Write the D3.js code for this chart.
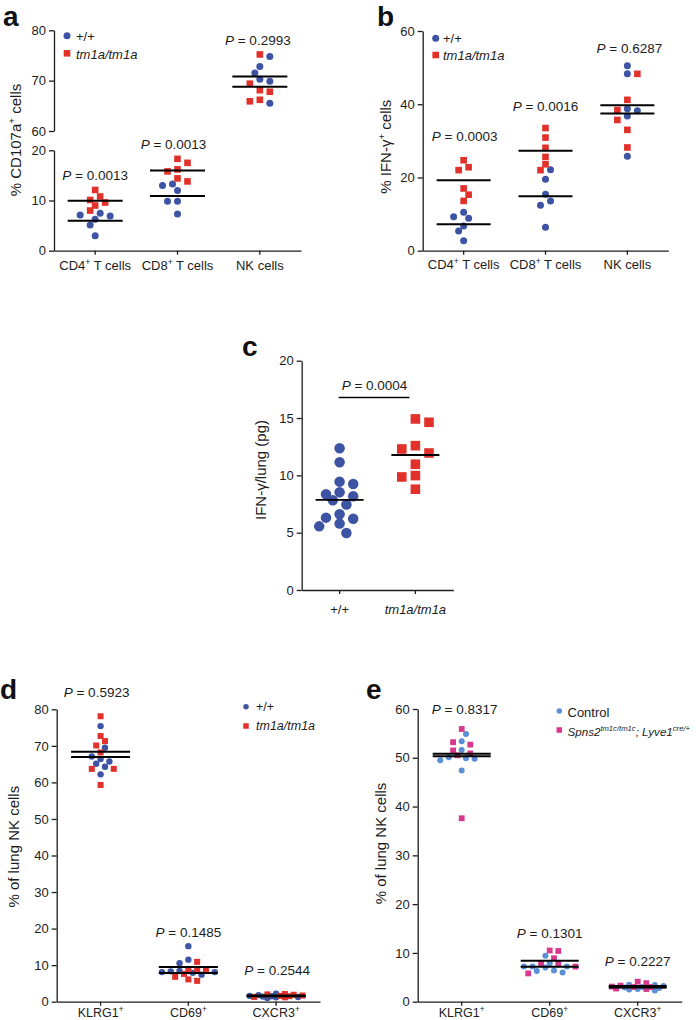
<!DOCTYPE html>
<html><head><meta charset="utf-8">
<script src="https://cdn.jsdelivr.net/npm/d3@7"></script>
<style>
body{margin:0;background:#fff;}
svg{display:block;}
</style></head><body>
<svg id="chart" width="696" height="1020"></svg>
<script>
// ---------------- DATA ----------------
const catsAB = ["CD4^{+} T cells", "CD8^{+} T cells", "NK cells"];
const legendAB = ["+/+", "*tm1a/tm1a*"];

// Panel a: % CD107a+ cells
const aWT = [[7.45, 6.9, 6.25, 7.1, 5.1, 3.0], [13.0, 12.0, 13.3, 9.85, 9.85, 7.3], [71.5, 72.8, 74.8, 70.3, 69.9, 65.5]];
const aKO = [[10.1, 9.0, 12.1, 9.6, 10.8, 8.0], [17.5, 15.8, 16.2, 18.3, 13.8, 14.4], [75.2, 69.4, 68.1, 67.8, 66.2, 65.9]];
const aP = ["0.0013", "0.0013", "0.2993"];
const aTicksLow = [0, 10, 20];
const aTicksHigh = [60, 70, 80];
const aTitle = "% CD107a^{+} cells";

// Panel b: % IFN-g+ cells
const bWT = [[10.5, 8.85, 6.75, 5.4, 9.3, 2.7], [22.1, 19.5, 15.4, 13.6, 12.4, 6.4], [50.5, 48.3, 38.8, 38.2, 36.8, 25.8]];
const bKO = [[24.7, 22.0, 22.8, 17.0, 15.3, 13.6], [33.5, 30.9, 28.1, 25.6, 23.6, 22.0], [48.3, 41.2, 38.4, 35.7, 33.0, 28.2]];
const bP = ["0.0003", "0.0016", "0.6287"];
const bTicks = [0, 20, 40, 60];
const bTitle = "% IFN-γ^{+}  cells";

// Panel c: IFN-g/lung (pg)
const catsC = ["+/+", "*tm1a/tm1a*"];
const cWT = [12.36, 11.14, 9.45, 9.25, 8.35, 8.52, 7.83, 8.18, 7.45, 6.6, 6.31, 6.22, 5.79, 5.55, 4.97];
const cKO = [14.92, 14.63, 12.59, 11.95, 12.3, 10.97, 9.98, 9.86, 8.79];
const cP = "0.0004";
const cBarLevel = 16.8;
const cTicks = [0, 5, 10, 15, 20];
const cTitle = "IFN-γ/lung (pg)";

// Panel d: % of lung NK cells
const catsDE = ["KLRG1^{+}", "CD69^{+}", "CXCR3^{+}"];
const dWT = [[75.4, 69.5, 66.4, 65.1, 64.3, 65.7, 67.1, 62.2], [15.2, 11.5, 10.5, 8.1, 8.3, 8.4, 7.4, 7.9, 8.1], [1.2, 1.5, 2.2, 1.0, 1.4, 1.8, 1.3, 1.6]];
const dKO = [[78.1, 72.7, 71.3, 70.1, 68.2, 63.7, 63.7, 59.3], [10.9, 8.7, 8.4, 8.7, 7.6, 6.8, 5.7, 6.1], [1.9, 1.6, 2.0, 1.3, 1.5, 1.7, 1.2, 2.1]];
const dP = ["0.5923", "0.1485", "0.2544"];
const dTicks = [0, 10, 20, 30, 40, 50, 60, 70, 80];
const deTitle = "% of lung NK cells";

// Panel e: % of lung NK cells
const eWT = [[54.9, 53.4, 51.6, 49.8, 49.5, 49.9, 50.1, 47.4], [9.4, 7.9, 7.0, 6.3, 6.0, 6.4, 7.2, 7.2, 7.2], [3.5, 3.0, 2.6, 2.3, 2.5, 2.8, 3.2, 3.4, 2.9]];
const eKO = [[55.9, 53.2, 52.7, 51.5, 50.5, 50.9, 37.6], [10.4, 10.5, 8.9, 7.9, 7.9, 7.2, 5.8], [2.7, 3.0, 4.1, 3.8, 3.3, 2.6, 3.0, 3.1]];
const eP = ["0.8317", "0.1301", "0.2227"];
const eTicks = [0, 10, 20, 30, 40, 50, 60];
const legendE = ["Control", "*Spns2^{tm1c/tm1c}; Lyve1^{cre/+}*"];

// ---------------- STYLE ----------------
const FONT = "'Liberation Sans', Arial, Helvetica, sans-serif";
const BLUE = "#3d53a4", RED = "#e1312a", LBLUE = "#5b8fd6", MAG = "#d8398c";
const INK = "#1c1c1c";

const svg = d3.select("#chart").attr("font-family", FONT);

function rich(sel, str, fs) {
  const parts = str.match(/\^\{[^}]*\}|\*|[^*^]+/g) || [];
  let italic = false, raised = false;
  const sh = fs * 0.38;
  parts.forEach(p => {
    if (p === "*") { italic = !italic; return; }
    let sup = false, t = p;
    if (p.startsWith("^{")) { sup = true; t = p.slice(2, -1); }
    const ts = sel.append("tspan").text(t).attr("font-style", italic ? "italic" : "normal");
    if (sup) {
      ts.attr("font-size", fs * 0.66);
      if (!raised) { ts.attr("dy", -sh); raised = true; }
    } else if (raised) { ts.attr("dy", sh); raised = false; }
  });
  return sel;
}

function txt(x, y, str, fs, anchor) {
  const t = svg.append("text").attr("x", x).attr("y", y).attr("font-size", fs)
    .attr("fill", INK).attr("text-anchor", anchor || "start");
  return rich(t, str, fs);
}

function vtitle(x, y, str, fs) {
  const t = svg.append("text").attr("transform", `translate(${x},${y}) rotate(-90)`)
    .attr("font-size", fs).attr("fill", INK).attr("text-anchor", "middle");
  return rich(t, str, fs);
}

function letter(x, y, s) {
  svg.append("text").attr("x", x).attr("y", y).attr("font-size", 28).attr("font-weight", "bold")
    .attr("fill", "#111").text(s);
}

function styleAxis(g, fs) {
  g.attr("font-family", FONT).attr("font-size", fs);
  g.selectAll("path.domain").attr("stroke", INK).attr("stroke-width", 1.3);
  g.selectAll(".tick line").attr("stroke", INK).attr("stroke-width", 1.3);
  g.selectAll(".tick text").attr("fill", INK);
}

function marker(g, shape, x, y, size, color) {
  if (shape === "circle") g.append("circle").attr("cx", x).attr("cy", y).attr("r", size / 2).attr("fill", color);
  else g.append("rect").attr("x", x - size / 2).attr("y", y - size / 2).attr("width", size).attr("height", size).attr("fill", color);
}

function swarm(pts, cx, diam, step, maxK) {
  const order = pts.slice().sort((a, b) => a.py - b.py);
  const placed = [];
  let flip = 1;
  order.forEach(p => {
    let bestX = cx, bestD = -1, found = false;
    for (let k = 0; k <= maxK && !found; k++) {
      const cands = k === 0 ? [0] : [flip * k, -flip * k];
      for (const c of cands) {
        const px = cx + c * step;
        let minD = Infinity;
        for (const q of placed) { const d = Math.hypot(q.px - px, q.py - p.py); if (d < minD) minD = d; }
        if (minD >= diam) { bestX = px; found = true; break; }
        if (minD > bestD) { bestD = minD; bestX = px; }
      }
    }
    if (bestX !== cx) flip = -flip;
    p.px = bestX; placed.push(p);
  });
}

// Generic panel
function drawPanel(P) {
  const x = d3.scaleBand().domain(d3.range(P.cats.length)).range([P.x0, P.x1]).padding(0);
  P.yAxes.forEach(a => {
    const g = svg.append("g").attr("transform", `translate(${P.x0},0)`)
      .call(d3.axisLeft(a.scale).tickValues(a.ticks).tickSize(5).tickPadding(3).tickSizeOuter(0));
    styleAxis(g, P.tickFs);
  });
  const gx = svg.append("g").attr("transform", `translate(0,${P.axisY})`)
    .call(d3.axisBottom(x).tickSize(4).tickSizeOuter(0).tickFormat(() => ""));
  styleAxis(gx, P.tickFs);
  P.cats.forEach((c, i) => {
    txt(x(i) + x.bandwidth() / 2, P.catY, c, P.catFs, "middle");
  });
  const gp = svg.append("g");
  const gm = svg.append("g");
  P.cats.forEach((c, i) => {
    const cx = x(i) + x.bandwidth() / 2;
    const ys = P.scaleFor(i);
    let pts = [];
    P.series.forEach((s, si) => {
      (s.data[i] || []).forEach(v => pts.push({ v, si, py: ys(v) }));
    });
    swarm(pts, cx, P.diam, P.step, P.maxK);
    pts.forEach(p => {
      const s = P.series[p.si];
      marker(gp, s.shape, p.px, p.py, s.shape === "circle" ? P.diam : P.side, s.color);
    });
    P.series.forEach(s => {
      const vals = s.data[i] || [];
      if (!vals.length) return;
      const m = d3.mean(vals);
      gm.append("line").attr("x1", cx - P.meanHalf).attr("x2", cx + P.meanHalf)
        .attr("y1", ys(m)).attr("y2", ys(m)).attr("stroke", "#000").attr("stroke-width", P.meanW);
    });
    if (P.pvals && P.pvals[i] != null) {
      txt(cx + (P.pDx ? P.pDx[i] : 0), P.pY[i], "*P* = " + P.pvals[i], P.pFs, "middle");
    }
  });
  if (P.legend) {
    const L = P.legend;
    P.series.forEach((s, si) => {
      marker(svg, s.shape, L.sx, L.sy[si], s.shape === "circle" ? L.diam : L.side, s.color);
      txt(L.tx, L.ty[si], L.labels[si], Array.isArray(L.fs) ? L.fs[si] : L.fs, "start");
    });
  }
  return x;
}

// ---------------- PANEL A ----------------
const aLow = d3.scaleLinear().domain([0, 20]).range([250.7, 150.3]);
const aHigh = d3.scaleLinear().domain([60, 80]).range([131, 30.3]);
drawPanel({
  cats: catsAB, x0: 54, x1: 301, axisY: 250.7,
  yAxes: [{ scale: aLow, ticks: aTicksLow }, { scale: aHigh, ticks: aTicksHigh }],
  scaleFor: i => i === 2 ? aHigh : aLow,
  series: [{ data: aWT, color: BLUE, shape: "circle" }, { data: aKO, color: RED, shape: "square" }],
  diam: 7, side: 6.6, step: 5, maxK: 6, meanHalf: 27.5, meanW: 2,
  tickFs: 13, catFs: 13, catY: 270,
  pvals: aP, pY: [180, 149, 45], pDx: [0, -4, -2], pFs: 13.5,
  legend: { sx: 67, sy: [35.7, 53.3], diam: 7, side: 6.6, tx: 76, ty: [40.5, 58.5], fs: 13, labels: legendAB }
});
vtitle(21, 140, aTitle, 15);
letter(3, 26, "a");

// ---------------- PANEL B ----------------
const bY = d3.scaleLinear().domain([0, 60]).range([250.7, 31]);
drawPanel({
  cats: catsAB, x0: 422.7, x1: 668.3, axisY: 250.7,
  yAxes: [{ scale: bY, ticks: bTicks }],
  scaleFor: () => bY,
  series: [{ data: bWT, color: BLUE, shape: "circle" }, { data: bKO, color: RED, shape: "square" }],
  diam: 7, side: 6.6, step: 5, maxK: 6, meanHalf: 27, meanW: 2,
  tickFs: 13, catFs: 13, catY: 268.5,
  pvals: bP, pY: [141.3, 111, 53.3], pDx: [1, 0, 2], pFs: 13.5,
  legend: { sx: 435.7, sy: [38.3, 55], diam: 7, side: 6.6, tx: 443, ty: [43, 60.3], fs: 13, labels: legendAB }
});
vtitle(391, 146.7, bTitle, 15);
letter(377, 26, "b");

// ---------------- PANEL C ----------------
const cY = d3.scaleLinear().domain([0, 20]).range([590, 360.7]);
const xc = drawPanel({
  cats: catsC, x0: 301.7, x1: 453.3, axisY: 590,
  yAxes: [{ scale: cY, ticks: cTicks }],
  scaleFor: () => cY,
  series: [{ data: [cWT, []], color: BLUE, shape: "circle" }, { data: [[], cKO], color: RED, shape: "square" }],
  diam: 10.5, side: 9.6, step: 6.8, maxK: 3, meanHalf: 24, meanW: 1.8,
  tickFs: 13, catFs: 13, catY: 613.5
});
{
  const c0 = xc(0) + xc.bandwidth() / 2, c1 = xc(1) + xc.bandwidth() / 2;
  svg.append("line").attr("x1", c0 - 1).attr("x2", c1 - 6).attr("y1", cY(cBarLevel)).attr("y2", cY(cBarLevel))
    .attr("stroke", "#000").attr("stroke-width", 1.5);
  txt((c0 + c1) / 2 - 3, 390, "*P* = " + cP, 13.5, "middle");
}
vtitle(266, 470, cTitle, 15);
letter(242, 356, "c");

// ---------------- PANEL D ----------------
const dY = d3.scaleLinear().domain([0, 80]).range([1001.7, 709.3]);
drawPanel({
  cats: catsDE, x0: 56.7, x1: 320, axisY: 1001.7,
  yAxes: [{ scale: dY, ticks: dTicks }],
  scaleFor: () => dY,
  series: [{ data: dWT, color: BLUE, shape: "circle" }, { data: dKO, color: RED, shape: "square" }],
  diam: 6.4, side: 6, step: 4.4, maxK: 6, meanHalf: 29.5, meanW: 2,
  tickFs: 13, catFs: 12.5, catY: 1017,
  pvals: dP, pY: [696.7, 936.7, 975], pDx: [-4, 0, 1], pFs: 13.5,
  legend: { sx: 246, sy: [706.7, 726], diam: 5.5, side: 5.5, tx: 256, ty: [711, 730], fs: 12.5, labels: legendAB }
});
vtitle(19, 846.7, deTitle, 15);
letter(0, 699, "d");

// ---------------- PANEL E ----------------
const eY = d3.scaleLinear().domain([0, 60]).range([1001.7, 709]);
drawPanel({
  cats: catsDE, x0: 417.7, x1: 681.7, axisY: 1001.7,
  yAxes: [{ scale: eY, ticks: eTicks }],
  scaleFor: () => eY,
  series: [{ data: eWT, color: LBLUE, shape: "circle" }, { data: eKO, color: MAG, shape: "square" }],
  diam: 6, side: 5.8, step: 4.3, maxK: 6, meanHalf: 29, meanW: 2,
  tickFs: 13, catFs: 12.5, catY: 1017,
  pvals: eP, pY: [714, 937.7, 966], pDx: [3, 0, 0], pFs: 13.5,
  legend: { sx: 559.3, sy: [711, 730], diam: 5.5, side: 5.5, tx: 567.5, ty: [716.5, 735.5], fs: [13, 11.6], labels: legendE }
});
vtitle(386, 843.5, deTitle, 15);
letter(366, 699, "e");
</script>
</body></html>
